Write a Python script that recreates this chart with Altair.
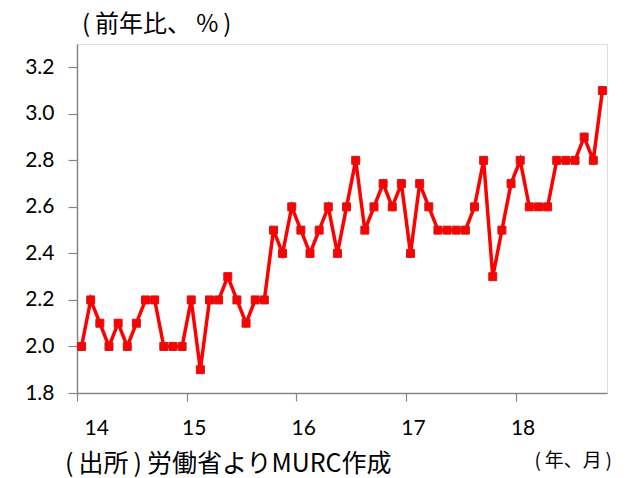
import altair as alt
import pandas as pd

# Year-over-year change (%), monthly, Jan 2014 - Oct 2018
start_year = 2014
v2014 = [2.0, 2.2, 2.1, 2.0, 2.1, 2.0, 2.1, 2.2, 2.2, 2.0, 2.0, 2.0]
v2015 = [2.2, 1.9, 2.2, 2.2, 2.3, 2.2, 2.1, 2.2, 2.2, 2.5, 2.4, 2.6]
v2016 = [2.5, 2.4, 2.5, 2.6, 2.4, 2.6, 2.8, 2.5, 2.6, 2.7, 2.6, 2.7]
v2017 = [2.4, 2.7, 2.6, 2.5, 2.5, 2.5, 2.5, 2.6, 2.8, 2.3, 2.5, 2.7]
v2018 = [2.8, 2.6, 2.6, 2.6, 2.8, 2.8, 2.8, 2.9, 2.8, 3.1]
series = [v2014, v2015, v2016, v2017, v2018]

x_tick_values = [0, 12, 24, 36, 48]
y_tick_values = [1.8, 2.0, 2.2, 2.4, 2.6, 2.8, 3.0, 3.2]

title_text = "(\u2009前年比、 %\u2009)"
source_text = "(\u2009出所\u2009)\u2009労働省よりMURC作成"
unit_text = "(\u2009年、月\u2009)"

rows = []
for yi, vals in enumerate(series):
    for mi, v in enumerate(vals):
        rows.append({"year": start_year + yi, "month": mi + 1,
                     "pos": yi * 12 + mi + 0.5, "value": v})
df = pd.DataFrame(rows)

GRAY = "#868686"
CJK = "Noto Sans CJK JP"
NUM = "Lato"

x = alt.X("pos:Q",
          scale=alt.Scale(domain=[0, 58], nice=False, zero=False),
          axis=alt.Axis(values=x_tick_values, title=None, grid=False,
                        labelExpr="format(datum.value / 12 + 14, 'd')",
                        labelFont=NUM, labelFontSize=21, labelColor="#000000",
                        labelOffset=7, labelPadding=16, tickSize=8,
                        tickColor=GRAY, domainColor=GRAY, domainWidth=1.5,
                        tickWidth=1.2))
y = alt.Y("value:Q",
          scale=alt.Scale(domain=[1.8, 3.3], nice=False, zero=False),
          axis=alt.Axis(values=y_tick_values, format=".1f", title=None, grid=False,
                        labelFont=NUM, labelFontSize=21, labelColor="#000000",
                        labelPadding=14, tickSize=9,
                        tickColor=GRAY, domainColor=GRAY, domainWidth=1.5,
                        tickWidth=1.2))

line = alt.Chart(df).mark_line(color="#FF0000", strokeWidth=3.5).encode(x=x, y=y)
points = alt.Chart(df).mark_point(shape="square", filled=True, size=64,
                                  color="#FF0000", stroke="#D01818",
                                  strokeWidth=1, opacity=1).encode(x=x, y=y)

title = alt.Chart(pd.DataFrame({"t": [title_text]})).mark_text(
    font=CJK, fontSize=24, align="left", baseline="middle", color="#000000"
).encode(text="t:N", x=alt.value(5), y=alt.value(-19))

source = alt.Chart(pd.DataFrame({"t": [source_text]})).mark_text(
    font=CJK, fontSize=25, align="left", baseline="middle", color="#000000"
).encode(text="t:N", x=alt.value(-12), y=alt.value(420))

unit = alt.Chart(pd.DataFrame({"t": [unit_text]})).mark_text(
    font=CJK, fontSize=19, align="right", baseline="middle", color="#000000"
).encode(text="t:N", x=alt.value(535), y=alt.value(417))

chart = alt.layer(line, points, title, source, unit).properties(
    width=530, height=349,
    autosize=alt.AutoSizeParams(type="none"),
    padding={"left": 77, "top": 44, "right": 20, "bottom": 85},
).configure_view(stroke=GRAY, strokeWidth=1.5).configure(background="#FFFFFF")

chart.save("out.html", embed_options={"renderer": "svg", "actions": False})
